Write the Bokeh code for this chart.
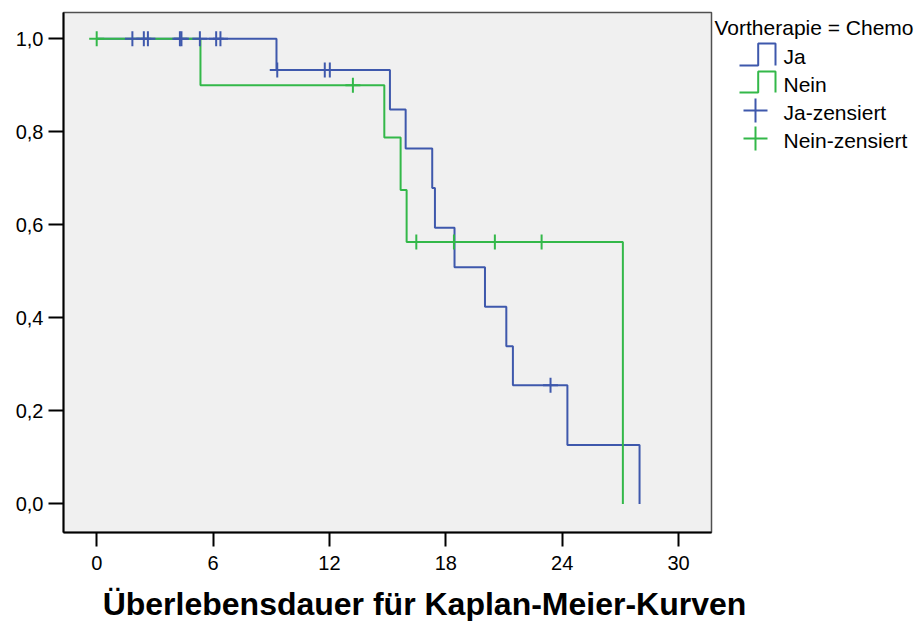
from bokeh.plotting import figure
from bokeh.layouts import row, column
from bokeh.models import Range1d, FixedTicker, CustomJSTickFormatter
from bokeh.core.properties import value
from bokeh.embed import file_html
from bokeh.resources import INLINE

# ---------------- data ----------------
ja_times = [0.0, 9.27, 15.12, 15.93, 17.30, 17.44, 18.45, 20.02, 21.12, 21.46, 24.27, 27.99]
ja_surv = [1.0, 0.933, 0.848, 0.764, 0.679, 0.594, 0.509, 0.424, 0.339, 0.255, 0.127, 0.0]
nein_times = [0.0, 5.35, 14.83, 15.67, 15.98, 27.13]
nein_surv = [1.0, 0.900, 0.788, 0.675, 0.563, 0.0]

ja_cens_t = [1.84, 2.43, 2.64, 4.29, 4.37, 5.32, 6.16, 6.38, 9.31, 11.76, 12.02, 23.40]
ja_cens_s = [1.0, 1.0, 1.0, 1.0, 1.0, 1.0, 1.0, 1.0, 0.933, 0.933, 0.933, 0.255]
nein_cens_t = [0.0, 13.21, 16.48, 18.42, 20.53, 22.94]
nein_cens_s = [1.0, 0.900, 0.563, 0.563, 0.563, 0.563]

x_ticks = [0, 6, 12, 18, 24, 30]
y_ticks = [0.0, 0.2, 0.4, 0.6, 0.8, 1.0]
x_title = "Überlebensdauer für Kaplan-Meier-Kurven"
legend_title = "Vortherapie = Chemo"
group_labels = ["Ja", "Nein"]
censor_labels = ["Ja-zensiert", "Nein-zensiert"]

BLUE = "#3E58AC"
GREEN = "#33B849"
FONT = "Liberation Sans"

TOP_H = 581  # height of the plot row; the axis title strip fills the rest
FRAME_TOP, FRAME_BOTTOM = 12, 532


def blank(fig):
    fig.axis.visible = False
    fig.xgrid.visible = False
    fig.ygrid.visible = False
    fig.outline_line_color = None
    fig.background_fill_color = "white"
    fig.border_fill_color = "white"
    fig.min_border = 0
    fig.min_border_left = 0
    fig.min_border_right = 0
    fig.min_border_top = 0
    fig.min_border_bottom = 0


# ---------------- main plot ----------------
p = figure(width=713, height=TOP_H, output_backend="svg", toolbar_location=None,
           x_range=Range1d(-1.712, 31.70), y_range=Range1d(-0.0613, 1.0565),
           min_border_left=63, min_border_right=2, min_border_top=FRAME_TOP,
           min_border_bottom=TOP_H - FRAME_BOTTOM)
p.background_fill_color = "#f0f0f0"
p.border_fill_color = "white"
p.outline_line_color = "#505050"
p.outline_line_width = 1.5
p.xgrid.visible = False
p.ygrid.visible = False

for ax in (p.xaxis[0], p.yaxis[0]):
    ax.axis_line_color = "black"
    ax.axis_line_width = 2
    ax.major_tick_line_color = "black"
    ax.major_tick_line_width = 2
    ax.major_tick_in = 0
    ax.minor_tick_line_color = None
    ax.major_label_text_font = FONT
    ax.major_label_text_font_size = "20px"
    ax.major_label_text_color = "black"

p.xaxis.ticker = FixedTicker(ticks=x_ticks)
p.xaxis.major_tick_out = 14
p.xaxis.major_label_standoff = 9
p.yaxis.ticker = FixedTicker(ticks=y_ticks)
p.yaxis.major_tick_out = 15
p.yaxis.major_label_standoff = 5
p.yaxis.formatter = CustomJSTickFormatter(code="return tick.toFixed(1).replace('.', ',');")

p.step(ja_times, ja_surv, mode="after", line_color=BLUE, line_width=2)
p.step(nein_times, nein_surv, mode="after", line_color=GREEN, line_width=2)
p.scatter(ja_cens_t, ja_cens_s, marker="cross", size=15, line_color=BLUE, line_width=2)
p.scatter(nein_cens_t, nein_cens_s, marker="cross", size=15, line_color=GREEN, line_width=2)

# ---------------- legend panel (page pixel coordinates, y downwards) ----------------
# the row aligns this panel's frame with the main frame (FRAME_TOP..FRAME_BOTTOM)
lg = figure(width=206, height=TOP_H, output_backend="svg", toolbar_location=None,
            x_range=Range1d(713, 919), y_range=Range1d(FRAME_BOTTOM, FRAME_TOP))
blank(lg)

lg.text(x=[714], y=[27], text=[legend_title], text_font=value(FONT),
        text_font_size="21px", text_baseline="middle", text_color="black")

icon_x = [739, 757.7, 757.7, 775, 775]
lg.line(icon_x, [65, 65, 43, 43, 65], line_color=BLUE, line_width=2)
lg.line(icon_x, [92, 92, 71, 71, 92], line_color=GREEN, line_width=2)
lg.scatter([755], [110], marker="cross", size=24, line_color=BLUE, line_width=2)
lg.scatter([755], [138], marker="cross", size=24, line_color=GREEN, line_width=2)

lg.text(x=[783, 783, 783, 783], y=[56, 84, 112, 140],
        text=group_labels + censor_labels, text_font=value(FONT),
        text_font_size="21px", text_baseline="middle", text_color="black")

# ---------------- axis title strip ----------------
tf = figure(width=919, height=621 - TOP_H, output_backend="svg", toolbar_location=None,
            x_range=Range1d(0, 919), y_range=Range1d(621, TOP_H))
blank(tf)
tf.text(x=[424], y=[603], text=[x_title], text_font=value(FONT), text_font_size="32px",
        text_font_style="bold", text_align="center", text_baseline="middle",
        text_color="black")

layout = column(row(p, lg, spacing=0), tf, spacing=0)
open("out.html", "w").write(file_html(layout, INLINE))
